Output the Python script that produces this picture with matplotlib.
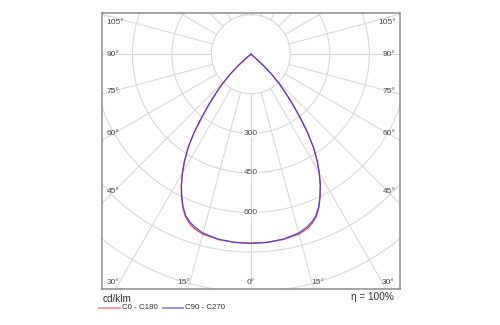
import matplotlib
matplotlib.use('Agg')
import matplotlib.pyplot as plt
from matplotlib.patches import Circle
from matplotlib.lines import Line2D
import numpy as np

plt.rcParams['font.family'] = ['Liberation Sans', 'DejaVu Sans']

# LUMINOUS INTENSITY (cd/klm) vs gamma angle from nadir
gamma = [0, 5, 10, 15, 18, 20, 22, 24, 26, 28, 30, 32, 34, 36, 38, 40, 42, 44, 46, 48, 50, 51]
c0_c180 = [717, 716, 713, 706, 695, 682, 664, 636, 601, 563, 520, 475, 425, 366, 302, 246, 196, 155, 111, 66, 22, 0]
c90_c270 = [717, 716, 712, 702, 689, 677, 660, 633, 599, 562, 520, 475, 425, 366, 302, 246, 196, 155, 111, 66, 22, 0]

ring_values = [150, 300, 450, 600, 750, 900, 1050]
ring_labels = [300, 450, 600]
side_angles = [45, 60, 75, 90, 105]
bottom_angles = [30, 15, 0, 15, 30]
bottom_sides = [-1, -1, 0, 1, 1]
series_names = ['C0 - C180', 'C90 - C270']
series_colors = ['#e04848', '#4a40c8']
legend_colors = ['#e89090', '#8080d8']
efficiency = 'η = 100%'
unit = 'cd/klm'

W, H = 500, 325
UPX = 3.791  # cd/klm per pixel
grid_col = '#d9d9d9'
txt_col = '#4a4a4a'
fs = 6.0

fig = plt.figure(figsize=(W / 100, H / 100), dpi=100)
# box in pixels: left 101.7, right 400, top 12.7, bottom 288.5 ; centre at (250.5, 54.2)
ax = fig.add_axes([101.7 / W, (H - 288.5) / H, 298.3 / W, 275.8 / H])
ax.set_xlim(-149.5 * UPX, 149.5 * UPX)
ax.set_ylim((54.2 - 288.5) * UPX, (54.2 - 12.7) * UPX)
ax.set_xticks([])
ax.set_yticks([])
for sp in ax.spines.values():
    sp.set_color('#8c8c8c')
    sp.set_linewidth(1.1)

# grid rings
for r in ring_values:
    ax.add_patch(Circle((0, 0), r, fill=False, edgecolor=grid_col, lw=0.8, zorder=1))

# radial lines every 15 deg, starting at the inner ring
for a in range(0, 360, 15):
    t = np.radians(a)
    ax.plot([150 * np.sin(t), 1300 * np.sin(t)], [-150 * np.cos(t), -1300 * np.cos(t)],
            color=grid_col, lw=0.8, zorder=1)

# intensity curves (both halves)
g = np.radians(gamma)
for vals, col, a in zip([c0_c180, c90_c270], series_colors, [1.0, 0.9]):
    v = np.array(vals)
    xs = np.concatenate([-v[::-1] * np.sin(g[::-1]), v * np.sin(g)])
    ys = np.concatenate([-v[::-1] * np.cos(g[::-1]), -v * np.cos(g)])
    ax.plot(xs, ys, color=col, lw=0.9, alpha=a, zorder=3)

# ring value labels
for r in ring_labels:
    ax.text(0, -r, str(r), ha='center', va='center', fontsize=fs, color=txt_col, zorder=4,
            bbox=dict(facecolor='white', edgecolor='none', pad=0.6))

# side angle labels
R = 137.5 * UPX
for a in side_angles:
    t = np.radians(a)
    y = -R * np.cos(t) / np.sin(t)
    y = min(y, 32 * UPX)
    ax.text(-144.5 * UPX, y, f'{a}°', ha='left', va='center', fontsize=fs, color=txt_col, zorder=4)
    ax.text(145.2 * UPX, y, f'{a}°', ha='right', va='center', fontsize=fs, color=txt_col, zorder=4)

# bottom angle labels
yb = (54.2 - 282.7) * UPX
for a, s in zip(bottom_angles, bottom_sides):
    x = s * min(np.tan(np.radians(a)) * 250 * UPX, 138 * UPX)
    ax.text(x, yb, f'{a}°', ha='center', va='center', fontsize=fs, color=txt_col, zorder=4)

# below the box: unit, legend, efficiency
fig.text(103 / W, 1 - 299.3 / H, unit, ha='left', va='center', fontsize=7.2, color='#303030')
fig.text(394 / W, 1 - 297.3 / H, efficiency, ha='right', va='center', fontsize=7.2, color='#303030')
leg_x = [(99, 120, 121.5), (163, 183, 185)]
ly = 1 - 307.7 / H
for (x0, x1, xt), name, col in zip(leg_x, series_names, legend_colors):
    fig.add_artist(Line2D([x0 / W, x1 / W], [ly, ly], color=col, lw=1.2, transform=fig.transFigure))
    fig.text(xt / W, ly, name, ha='left', va='center', fontsize=5.7, color='#303030')

fig.savefig('out.png', dpi=100, facecolor='white')
